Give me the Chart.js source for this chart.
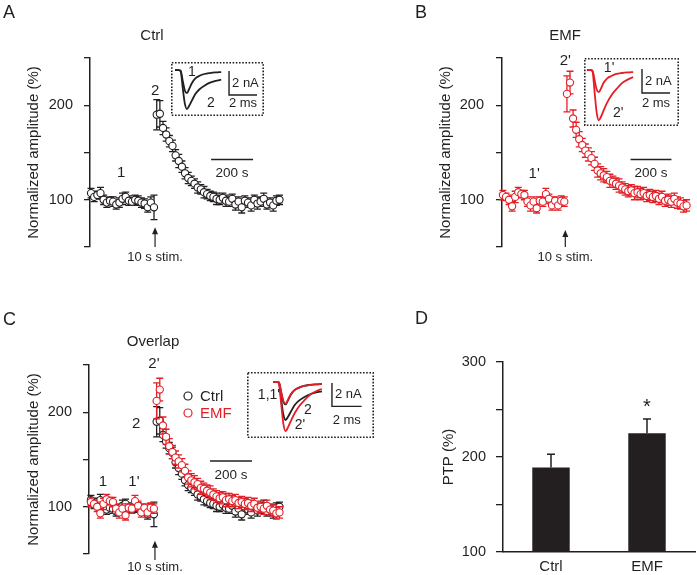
<!DOCTYPE html>
<html>
<head>
<meta charset="utf-8">
<script src="https://cdn.jsdelivr.net/npm/chart.js@4.4.1/dist/chart.umd.min.js"></script>
<style>
    body { margin: 0; background: #fff; }
    #wrap { position: relative; width: 697px; height: 575px; overflow: hidden; }
    canvas { position: absolute; left: 0; top: 0; }
</style>
</head>
<body>
<div id="wrap">
    <canvas id="chartA" width="697" height="575"></canvas>
    <canvas id="chartB" width="697" height="575"></canvas>
    <canvas id="chartC" width="697" height="575"></canvas>
    <canvas id="chartD" width="697" height="575"></canvas>
    <canvas id="insetA" width="93" height="54" style="left:171px;top:62px"></canvas>
    <canvas id="insetB" width="95" height="68" style="left:584px;top:58px"></canvas>
    <canvas id="insetC" width="127" height="66" style="left:247px;top:372px"></canvas>
</div>
<script>
const INK = '#231f20';
const RED = '#e41e26';
const FONT = '"Liberation Sans", Arial, sans-serif';

// sweep times (s), stimulation at 0
const preTimes = [-305, -290, -275, -260, -245, -230, -215, -200, -185, -170, -155,
    -140, -125, -110, -95, -80, -65, -50, -35, -20, -5];
const postTimes = [8, 23, 38, 53, 68, 83, 98, 113, 128, 143, 158, 173, 188, 203, 218,
    233, 248, 263, 278, 293, 308, 323, 338, 353, 368, 383, 398, 413, 428, 443, 458,
    473, 488, 503, 518, 533, 548, 563, 578, 593];

// normalized amplitude (%) and SEM
const ctrlPre = [107, 103, 105, 107, 100, 97, 99, 98, 95, 97, 101, 103, 99, 98, 100, 99, 97, 96, 92, 97, 92];
const ctrlPreErr = [5, 5, 4, 6, 5, 5, 4, 5, 5, 5, 6, 5, 5, 4, 5, 5, 5, 5, 5, 6, 13];
const ctrlPost = [190, 191, 176, 169, 162, 157, 147, 141, 135, 128, 123, 120, 117, 113, 111, 108, 106, 104, 103, 101,
    100, 102, 99, 98, 101, 95, 98, 92, 99, 97, 94, 100, 96, 98, 101, 95, 97, 94, 99, 100];
const ctrlPostErr = [16, 14, 7, 7, 6, 6, 6, 7, 6, 6, 6, 5, 5, 6, 5, 6, 5, 5, 5, 6,
    5, 5, 6, 5, 5, 6, 5, 6, 5, 5, 6, 5, 6, 5, 6, 5, 5, 6, 5, 5];
const emfPre = [105, 103, 100, 93, 103, 108, 106, 105, 98, 94, 98, 91, 99, 98, 106, 101, 94, 99, 94, 99, 98];
const emfPreErr = [5, 4, 5, 5, 6, 5, 4, 5, 5, 6, 5, 5, 4, 5, 6, 5, 5, 4, 5, 5, 5];
const emfPost = [212, 224, 186, 174, 164, 158, 152, 148, 144, 138, 131, 128, 126, 124, 120, 119, 117, 115, 113, 111,
    109, 110, 107, 108, 106, 107, 104, 105, 103, 104, 101, 103, 99, 100, 98, 101, 97, 96, 93, 94];
const emfPostErr = [19, 12, 9, 8, 8, 7, 7, 7, 7, 7, 7, 7, 7, 6, 7, 6, 6, 7, 6, 6,
    6, 6, 7, 6, 6, 6, 6, 6, 6, 6, 6, 6, 6, 6, 6, 6, 6, 6, 6, 6];

// inset EPSC traces (ms, nA)
const traceTime = [0, 0.25, 0.4, 0.55, 0.7, 0.85, 1.0, 1.2, 1.45, 1.75, 2.1, 2.5, 2.9, 3.3];
const ctrlTrace1 = [0, 0, -0.05, -0.9, -1.7, -1.92, -1.6, -1.1, -0.7, -0.48, -0.33, -0.25, -0.2, -0.17];
const ctrlTrace2 = [0, 0, -0.1, -1.5, -2.8, -3.25, -3.0, -2.55, -2.0, -1.6, -1.3, -1.05, -0.9, -0.8];
const emfTrace1 = [0, 0, -0.05, -0.85, -1.65, -1.85, -1.55, -1.05, -0.7, -0.5, -0.33, -0.25, -0.2, -0.17];
const emfTrace2 = [0, 0, -0.15, -1.9, -3.6, -4.2, -3.9, -3.35, -2.7, -2.1, -1.6, -1.1, -0.8, -0.6];

// PTP summary
const groups = ['Ctrl', 'EMF'];
const ptpMean = [189, 225];
const ptpSem = [14, 15];

const ampLabels = [100, 200];
const ptpLabels = [100, 200, 300];

function toPoints(times, values) {
    return times.map((t, i) => ({ x: t, y: values[i] }));
}

// error bars drawn under each dataset's points
const errorBars = {
    id: 'errorBars',
    beforeDatasetDraw(chart, args) {
        const ds = chart.data.datasets[args.index];
        if (!ds.errors) return;
        const y = chart.scales.y;
        const ctx = chart.ctx;
        const hw = ds.capWidth || 3.5;
        ctx.save();
        ctx.strokeStyle = ds.errorColor || ds.borderColor;
        ctx.lineWidth = ds.errorWidth || 1.3;
        args.meta.data.forEach((el, i) => {
            const raw = ds.data[i];
            const v = typeof raw === 'object' ? raw.y : raw;
            const e = ds.errors[i];
            const yTop = y.getPixelForValue(v + e);
            const yBot = y.getPixelForValue(ds.upOnly ? v : v - e);
            ctx.beginPath();
            ctx.moveTo(el.x, yTop);
            ctx.lineTo(el.x, yBot);
            ctx.moveTo(el.x - hw, yTop);
            ctx.lineTo(el.x + hw, yTop);
            if (!ds.upOnly) {
                ctx.moveTo(el.x - hw, yBot);
                ctx.lineTo(el.x + hw, yBot);
            }
            ctx.stroke();
        });
        ctx.restore();
    }
};

// letters, titles, numbers, stim arrow, time bar, legend
function makeNotes(cfg) {
    return {
        id: 'notes',
        afterDraw(chart) {
            const { ctx, chartArea } = chart;
            const x = chart.scales.x, y = chart.scales.y;
            ctx.save();
            ctx.fillStyle = INK;
            ctx.strokeStyle = INK;
            ctx.textBaseline = 'middle';

            ctx.font = '18px ' + FONT;
            ctx.textAlign = 'left';
            ctx.fillText(cfg.letter[0], cfg.letter[1], cfg.letter[2]);

            ctx.textAlign = 'center';
            if (cfg.title) {
                ctx.font = '15px ' + FONT;
                ctx.fillText(cfg.title[0], cfg.title[1], cfg.title[2]);
            }

            ctx.font = '15px ' + FONT;
            (cfg.labels || []).forEach(l => {
                ctx.fillText(l[0], x.getPixelForValue(l[1]), y.getPixelForValue(l[2]));
            });

            if (cfg.stim) {
                const sx = x.getPixelForValue(0);
                const tip = y.getPixelForValue(cfg.stim.tip);
                const base = chartArea.bottom + cfg.stim.extra;
                ctx.lineWidth = 1.2;
                ctx.beginPath();
                ctx.moveTo(sx, base);
                ctx.lineTo(sx, tip + 5);
                ctx.stroke();
                ctx.beginPath();
                ctx.moveTo(sx, tip);
                ctx.lineTo(sx - 3, tip + 7);
                ctx.lineTo(sx + 3, tip + 7);
                ctx.closePath();
                ctx.fill();
                ctx.font = '13px ' + FONT;
                ctx.fillText('10 s stim.', sx, chartArea.bottom + cfg.stim.textDy);
            }

            if (cfg.timeBar) {
                const x0 = x.getPixelForValue(cfg.timeBar.t0);
                const x1 = x.getPixelForValue(cfg.timeBar.t0 + 200);
                const by = y.getPixelForValue(cfg.timeBar.v);
                ctx.lineWidth = 1.5;
                ctx.beginPath();
                ctx.moveTo(x0, by);
                ctx.lineTo(x1, by);
                ctx.stroke();
                ctx.font = '13.5px ' + FONT;
                ctx.fillText('200 s', (x0 + x1) / 2, by + 14);
            }

            if (cfg.legend) {
                ctx.font = '15px ' + FONT;
                ctx.textAlign = 'left';
                chart.data.datasets.forEach((ds, i) => {
                    const ly = cfg.legend.y + i * 17;
                    ctx.strokeStyle = ds.borderColor;
                    ctx.lineWidth = 1.2;
                    ctx.beginPath();
                    ctx.arc(cfg.legend.x, ly, 4, 0, Math.PI * 2);
                    ctx.stroke();
                    ctx.fillStyle = ds.labelColor;
                    ctx.fillText(ds.label, cfg.legend.x + 12, ly + 1);
                });
            }

            if (cfg.star) {
                const el = chart.getDatasetMeta(0).data[1];
                ctx.font = '20px ' + FONT;
                ctx.fillText('*', el.x, y.getPixelForValue(ptpMean[1] + ptpSem[1]) - 12);
            }
            ctx.restore();
        }
    };
}

function ampDataset(label, pre, preErr, post, postErr, color, order) {
    return {
        label: label,
        data: toPoints(preTimes.concat(postTimes), pre.concat(post)),
        errors: preErr.concat(postErr),
        borderColor: color,
        labelColor: color === RED ? RED : INK,
        backgroundColor: '#fff',
        pointRadius: 3.6,
        pointBorderWidth: 1.1,
        clip: false,
        order: order
    };
}

function ampOptions(pad, axisWidth, titlePad, xMin, xMax, labelPad) {
    return {
        responsive: false,
        animation: false,
        layout: { padding: pad },
        plugins: { legend: { display: false }, tooltip: { enabled: false } },
        scales: {
            x: { type: 'linear', display: false, min: xMin, max: xMax },
            y: {
                min: 50,
                max: 250,
                afterFit(scale) { scale.width = axisWidth; },
                ticks: {
                    stepSize: 50,
                    padding: labelPad,
                    color: INK,
                    font: { family: FONT, size: 14.5 },
                    callback: v => ampLabels.includes(v) ? v : ''
                },
                grid: { drawOnChartArea: false, tickLength: 6, color: INK, lineWidth: 1.3 },
                border: { display: true, color: INK, width: 1.5 },
                title: {
                    display: true,
                    text: 'Normalized amplitude (%)',
                    color: INK,
                    font: { family: FONT, size: 15 },
                    padding: { top: titlePad, bottom: 0 }
                }
            }
        }
    };
}

// Panel A
new Chart(document.getElementById('chartA'), {
    type: 'scatter',
    data: { datasets: [ampDataset('Ctrl', ctrlPre, ctrlPreErr, ctrlPost, ctrlPostErr, INK, 0)] },
    options: ampOptions({ left: 0, top: 58, bottom: 328, right: 407 }, 90, 25, -310, 643, 11),
    plugins: [errorBars, makeNotes({
        letter: ['A', 3, 13],
        title: ['Ctrl', 152, 36],
        labels: [['1', -162, 128.7], ['2', 0, 215]],
        stim: { tip: 71, extra: 0, textDy: 10 },
        timeBar: { t0: 267, v: 142.5 }
    })]
});

// Panel B
new Chart(document.getElementById('chartB'), {
    type: 'scatter',
    data: { datasets: [ampDataset('EMF', emfPre, emfPreErr, emfPost, emfPostErr, RED, 0)] },
    options: ampOptions({ left: 410, top: 58, bottom: 328, right: 0 }, 92, 27, -309.5, 619, 12),
    plugins: [errorBars, makeNotes({
        letter: ['B', 415, 13],
        title: ['EMF', 565, 36],
        labels: [["1'", -152, 127], ["2'", 0, 247]],
        stim: { tip: 68, extra: 0, textDy: 10 },
        timeBar: { t0: 319, v: 142.7 }
    })]
});

// Panel C
new Chart(document.getElementById('chartC'), {
    type: 'scatter',
    data: {
        datasets: [
            ampDataset('Ctrl', ctrlPre, ctrlPreErr, ctrlPost, ctrlPostErr, INK, 1),
            ampDataset('EMF', emfPre, emfPreErr, emfPost, emfPostErr, RED, 0)
        ]
    },
    options: ampOptions({ left: 0, top: 365, bottom: 21, right: 407 }, 89, 25, -314, 643, 11),
    plugins: [errorBars, makeNotes({
        letter: ['C', 3, 320],
        title: ['Overlap', 153, 342],
        labels: [['1', -248, 126], ["1'", -100, 126], ["2'", -5, 251], ['2', -90, 188]],
        stim: { tip: 64, extra: 6, textDy: 13 },
        timeBar: { t0: 262, v: 148.4 },
        legend: { x: 188, y: 396 }
    })]
});

// Panel D
new Chart(document.getElementById('chartD'), {
    type: 'bar',
    data: {
        labels: groups,
        datasets: [{
            data: ptpMean,
            errors: ptpSem,
            upOnly: true,
            capWidth: 4,
            errorWidth: 1.5,
            errorColor: INK,
            backgroundColor: INK,
            borderColor: INK,
            barPercentage: 0.39,
            categoryPercentage: 1
        }]
    },
    options: {
        responsive: false,
        animation: false,
        layout: { padding: { left: 420, top: 362, bottom: 0, right: 2 } },
        plugins: { legend: { display: false }, tooltip: { enabled: false } },
        scales: {
            x: {
                afterFit(scale) { scale.height = 23; },
                ticks: { padding: 6, color: INK, font: { family: FONT, size: 15 } },
                grid: { drawOnChartArea: false, drawTicks: false },
                border: { display: true, color: INK, width: 1.5 }
            },
            y: {
                min: 100,
                max: 300,
                afterFit(scale) { scale.width = 83; },
                ticks: {
                    stepSize: 50,
                    padding: 10,
                    color: INK,
                    font: { family: FONT, size: 14.5 },
                    callback: v => ptpLabels.includes(v) ? v : ''
                },
                grid: { drawOnChartArea: false, tickLength: 7, color: INK, lineWidth: 1.3 },
                border: { display: true, color: INK, width: 1.5 },
                title: {
                    display: true,
                    text: 'PTP (%)',
                    color: INK,
                    font: { family: FONT, size: 15 },
                    padding: { top: 20, bottom: 0 }
                }
            }
        }
    },
    plugins: [errorBars, makeNotes({ letter: ['D', 415, 319], star: true })]
});

// inset: dotted frame, 2 nA / 2 ms scale bars, trace numbers
function makeInsetNotes(cfg) {
    return {
        id: 'insetNotes',
        afterDraw(chart) {
            const { ctx, width, height } = chart;
            const x = chart.scales.x, y = chart.scales.y;
            ctx.save();
            ctx.strokeStyle = INK;
            ctx.fillStyle = INK;
            ctx.lineWidth = 1.6;
            ctx.setLineDash([1.6, 1.6]);
            ctx.strokeRect(0.8, 0.8, width - 1.6, height - 1.6);
            ctx.setLineDash([]);

            const bx = x.getPixelForValue(cfg.bar[0]);
            const bx2 = x.getPixelForValue(cfg.bar[0] + 2);
            const by = y.getPixelForValue(cfg.bar[1]);
            const by2 = y.getPixelForValue(cfg.bar[1] - 2);
            ctx.lineWidth = 1.4;
            ctx.beginPath();
            ctx.moveTo(bx, by);
            ctx.lineTo(bx, by2);
            ctx.lineTo(bx2, by2);
            ctx.stroke();
            ctx.font = '13px ' + FONT;
            ctx.textBaseline = 'middle';
            ctx.textAlign = 'left';
            ctx.fillText('2 nA', bx + 3, (by + by2) / 2);
            ctx.textAlign = 'center';
            ctx.fillText('2 ms', (bx + bx2) / 2, by2 + cfg.msDy);

            ctx.font = '14px ' + FONT;
            cfg.labels.forEach(l => {
                ctx.textAlign = l[3] || 'center';
                ctx.fillText(l[0], x.getPixelForValue(l[1]), y.getPixelForValue(l[2]));
            });
            ctx.restore();
        }
    };
}

function traceDataset(values, color, order) {
    return {
        data: toPoints(traceTime, values),
        showLine: true,
        borderColor: color,
        borderWidth: 1.8,
        pointRadius: 0,
        cubicInterpolationMode: 'monotone',
        order: order
    };
}

function insetChart(id, datasets, xr, yr, notes) {
    new Chart(document.getElementById(id), {
        type: 'scatter',
        data: { datasets: datasets },
        options: {
            responsive: false,
            animation: false,
            layout: { padding: 0 },
            plugins: { legend: { display: false }, tooltip: { enabled: false } },
            scales: {
                x: { type: 'linear', display: false, min: xr[0], max: xr[1] },
                y: { display: false, min: yr[0], max: yr[1] }
            }
        },
        plugins: [makeInsetNotes(notes)]
    });
}

insetChart('insetA',
    [traceDataset(ctrlTrace1, INK, 0), traceDataset(ctrlTrace2, INK, 0)],
    [-0.29, 6.36], [-3.83, 0.67],
    { bar: [3.86, -0.08], msDy: 8, labels: [['1', 1.21, -0.16], ['2', 2.57, -2.75]] });

insetChart('insetB',
    [traceDataset(emfTrace1, RED, 0), traceDataset(emfTrace2, RED, 0)],
    [-0.21, 6.57], [-4.67, 1.0],
    { bar: [3.93, 0.08], msDy: 10, labels: [["1'", 1.58, 0.17], ["2'", 2.23, -3.58]] });

insetChart('insetC',
    [traceDataset(ctrlTrace1, INK, 1), traceDataset(ctrlTrace2, INK, 1),
     traceDataset(emfTrace1, RED, 0), traceDataset(emfTrace2, RED, 0)],
    [-1.76, 6.82], [-4.79, 0.85],
    { bar: [3.98, -0.09], msDy: 14, labels: [["1,1'", 0.47, -1.12, 'right'], ['2', 2.36, -2.4], ["2'", 1.82, -3.68]] });
</script>
</body>
</html>
